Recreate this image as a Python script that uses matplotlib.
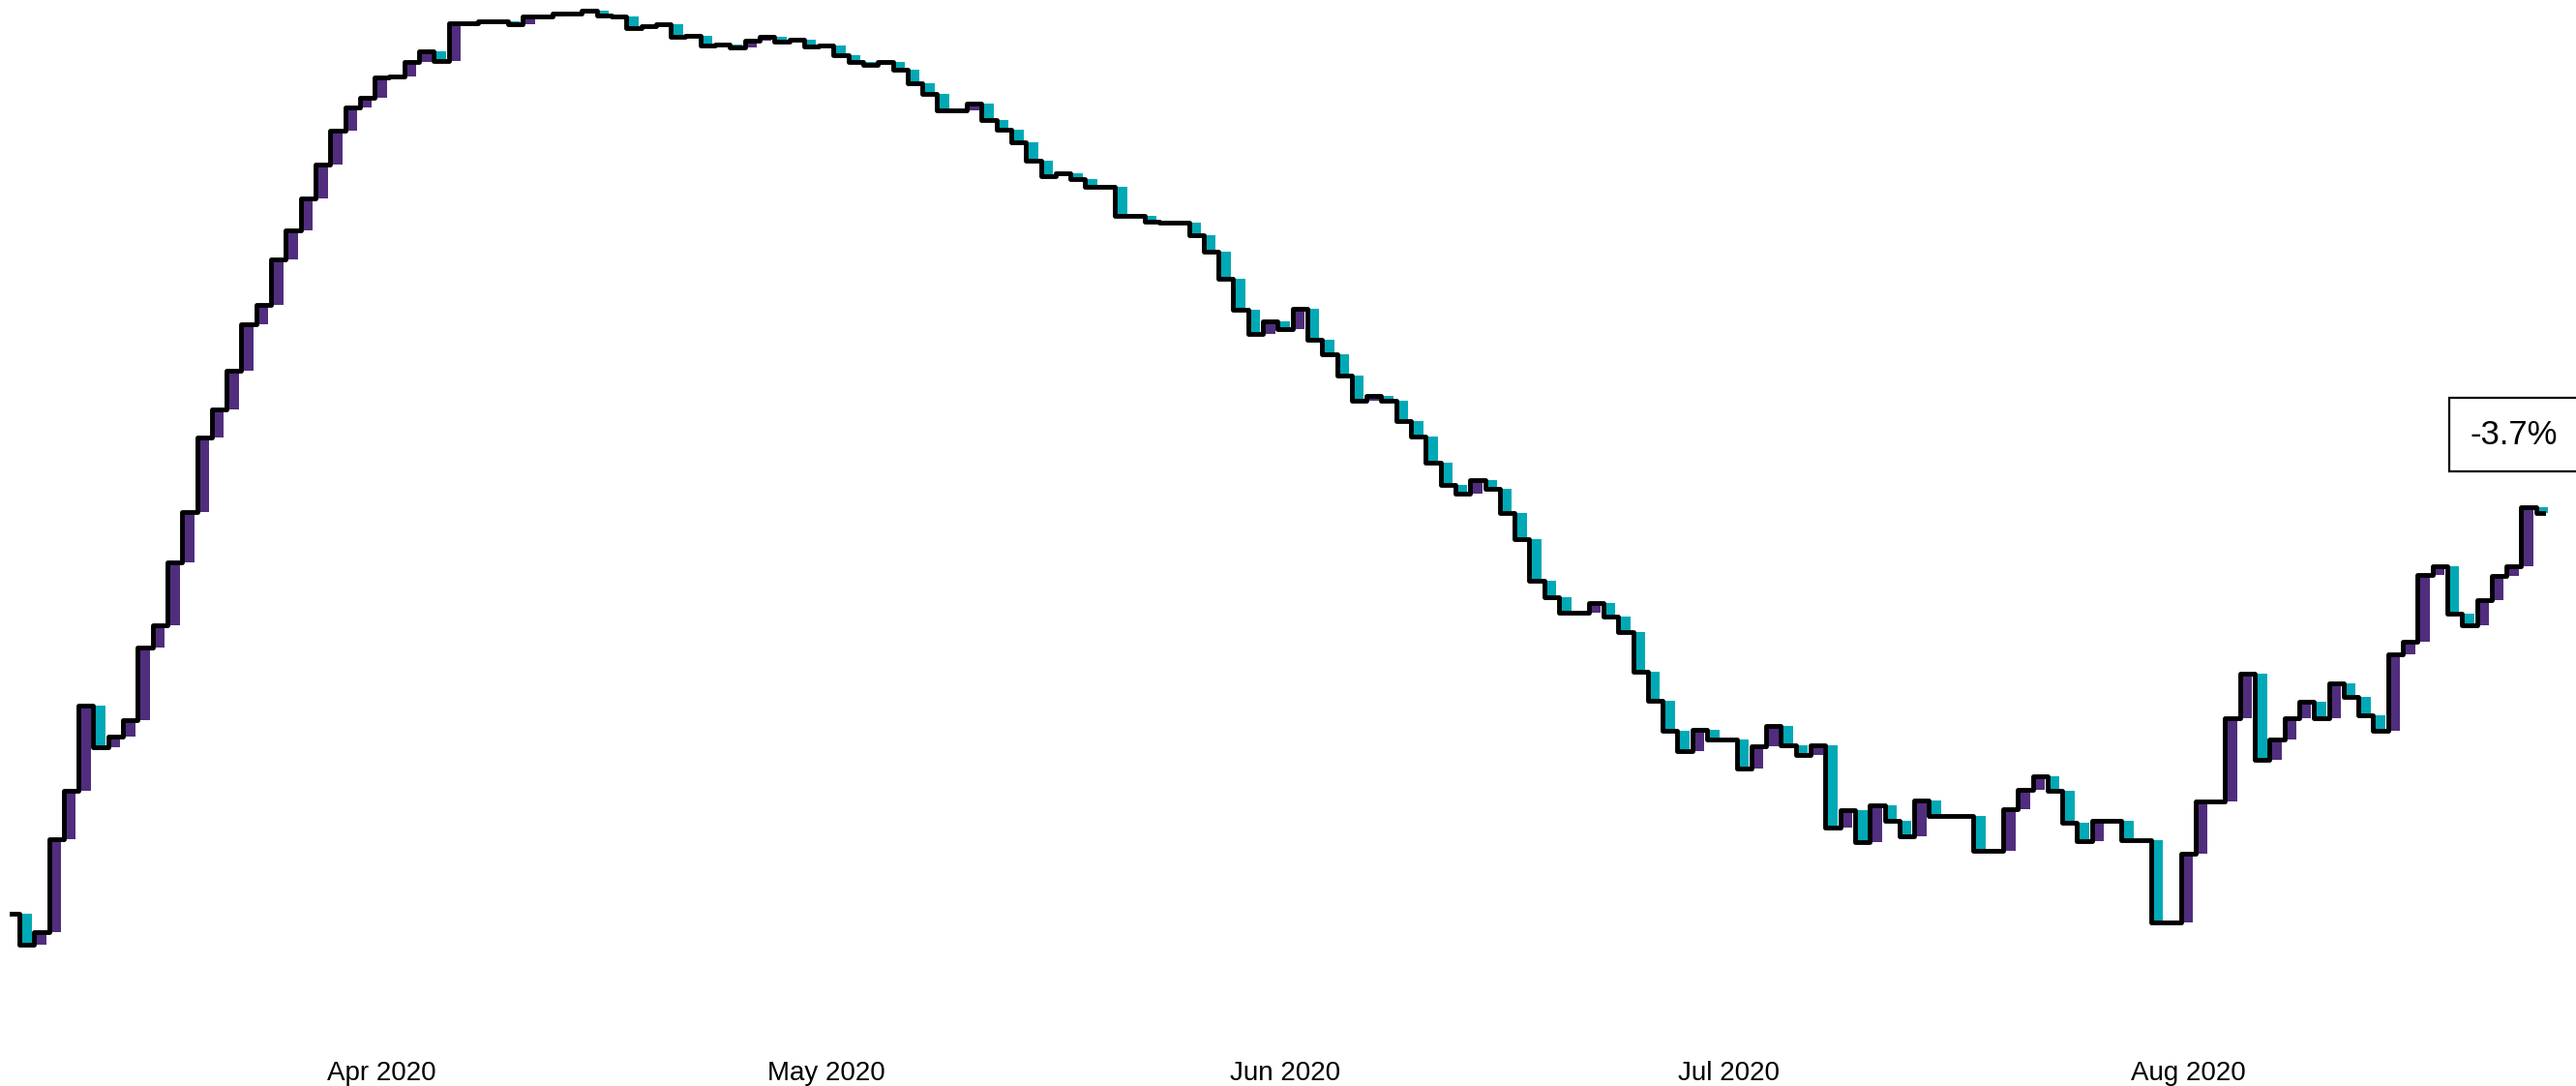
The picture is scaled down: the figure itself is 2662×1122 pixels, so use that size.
import numpy as np
import pandas as pd
import matplotlib
matplotlib.use("Agg")
import matplotlib.pyplot as plt
import matplotlib.dates as mdates

plt.rcParams["font.family"] = ["Liberation Sans", "DejaVu Sans"]

# daily values (percent), 7 Mar 2020 .. 25 Aug 2020
dates = pd.date_range("2020-03-07", "2020-08-25", freq="D")
values = [
    -24.4, -26.0, -25.35, -20.55, -18.05, -13.65, -15.8, -15.25, -14.4, -10.65,
    -9.5, -6.25, -3.65, 0.2, 1.65, 3.65, 6.05, 7.05, 9.4, 10.9,
    12.55, 14.3, 16.05, 17.25, 17.75, 18.8, 18.85, 19.6, 20.15, 19.65,
    21.6, 21.62, 21.7, 21.68, 21.55, 21.97, 21.93, 22.08, 22.1, 22.25,
    22.0, 21.93, 21.37, 21.43, 21.53, 20.88, 20.95, 20.43, 20.5, 20.35,
    20.7, 20.88, 20.67, 20.75, 20.38, 20.47, 19.93, 19.6, 19.43, 19.58,
    19.18, 18.5, 17.97, 17.1, 17.1, 17.47, 16.6, 16.08, 15.47, 14.5,
    13.68, 13.85, 13.57, 13.15, 13.15, 11.65, 11.65, 11.35, 11.3, 11.3,
    10.65, 9.78, 8.42, 6.8, 5.55, 6.2, 5.8, 6.85, 5.27, 4.5,
    3.4, 2.12, 2.35, 2.12, 1.05, 0.25, -1.1, -2.25, -2.7, -2.0,
    -2.43, -3.68, -5.04, -7.19, -8.05, -8.85, -8.85, -8.33, -9.05, -9.83,
    -11.9, -13.4, -14.95, -16.0, -14.88, -15.4, -15.4, -16.9, -15.75, -14.7,
    -15.7, -16.2, -15.7, -19.95, -19.05, -20.7, -18.78, -19.6, -20.4, -18.53,
    -19.35, -19.35, -19.35, -21.15, -21.15, -19.0, -18.0, -17.28, -18.05, -19.7,
    -20.65, -19.6, -19.6, -20.6, -20.6, -24.85, -24.85, -21.28, -18.6, -18.6,
    -14.3, -11.98, -16.45, -15.38, -14.3, -13.45, -14.3, -12.5, -13.2, -14.13,
    -14.95, -10.98, -10.33, -6.9, -6.45, -8.9, -9.5, -8.2, -6.95, -6.45,
    -3.4, -3.7,
]
label_text = "-3.7%"

up_color = "#512D7E"
down_color = "#00A9B5"

vals = np.array(values)
change = np.diff(vals)
colors = [up_color if c > 0 else down_color for c in change]
bar_left = dates[1:] - pd.Timedelta(hours=12)

fig = plt.figure(figsize=(26.62, 11.22), dpi=100)
ax = fig.add_axes([0, 52 / 1122, 1, 1070 / 1122])

# change bars behind the step line
ax.bar(bar_left, change, bottom=vals[:-1], width=0.82, align="edge",
       color=colors, linewidth=0, zorder=1)
ax.step(dates, vals, where="mid", color="black", lw=3.5, zorder=2)

ax.annotate(label_text, xy=(dates[-1], vals[-1]), xytext=(-22, 58),
            textcoords="offset points", ha="center", va="center", fontsize=25,
            bbox=dict(boxstyle="square,pad=0.62", fc="white", ec="black", lw=1.6),
            zorder=3)

ax.set_xlim(dates[0] - pd.Timedelta(days=0.807), dates[0] + pd.Timedelta(days=173.2))
ax.set_ylim(-30.7, 22.8)

ax.xaxis.set_major_locator(mdates.MonthLocator())
ax.xaxis.set_major_formatter(mdates.DateFormatter("%b %Y"))
ax.tick_params(axis="x", length=0, pad=19, labelsize=20)
ax.set_yticks([])
for s in ax.spines.values():
    s.set_visible(False)

fig.savefig("out.png", dpi=100)
